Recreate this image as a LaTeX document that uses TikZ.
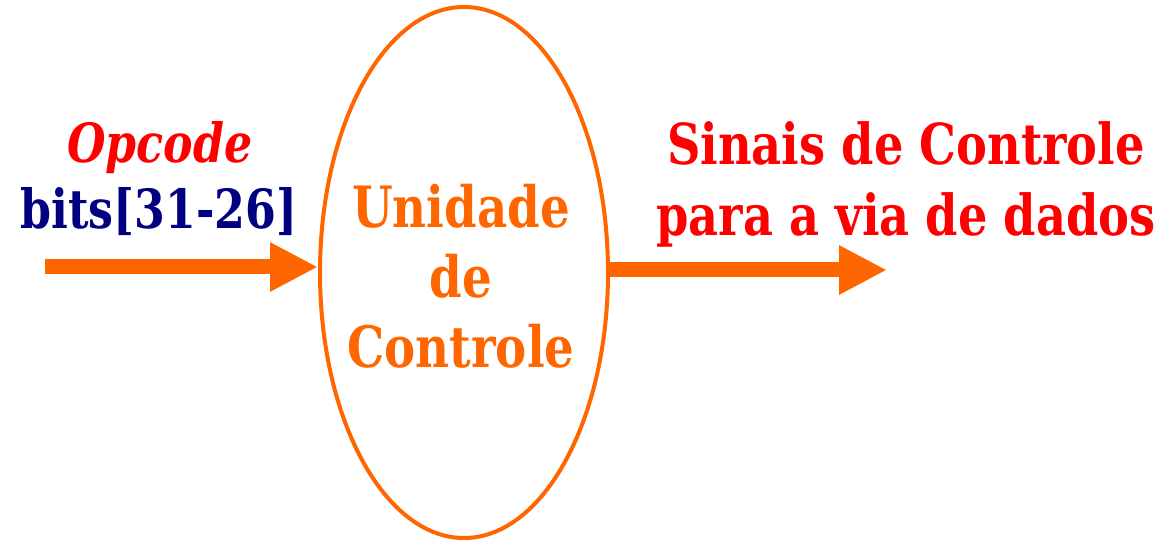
\documentclass[tikz,border=0pt]{standalone}
\usepackage{fontspec}
\setmainfont{DejaVu Serif}[FakeStretch=0.82]
\usetikzlibrary{shapes.geometric, arrows.meta}
\definecolor{ucorange}{HTML}{FF6600}
\definecolor{ucnavy}{HTML}{000080}
\tikzset{
    flow/.style={ucorange, line width=15pt, -{Triangle[length=48pt, width=46pt]}},
    unit/.style={ellipse, draw=ucorange, line width=4pt, minimum width=288pt, minimum height=531pt, inner sep=0pt},
    big text/.style={font=\bfseries\fontsize{57}{70}\selectfont, align=center, inner sep=0pt},
    field text/.style={font=\bfseries\fontsize{54}{67}\selectfont, align=center, inner sep=0pt},
    signal text/.style={font=\bfseries\fontsize{56.5}{71}\selectfont, align=center, inner sep=0pt}
}

\begin{document}
\begin{tikzpicture}[x=1pt, y=-1pt]
    \useasboundingbox (0,0) rectangle (1173,545);

    % Control unit
    \node[unit] (cu) at (464,272.5) {};
    \node[big text, text=ucorange, anchor=base] (cutext) at (461,367) {Unidade\\de\\Controle};

    % Input: opcode field
    \node[field text, text=red, font=\bfseries\itshape\fontsize{54}{67}\selectfont, anchor=base] (opcode) at (160,163) {Opcode};
    \node[field text, text=ucnavy, anchor=base] (bits) at (159,229) {bits[31-26]};
    \coordinate (src) at (45,267);
    \draw[flow] (src) -- (src -| cu.west);

    % Output: control signals
    \node[signal text, text=red, anchor=base] (signals) at (906,236) {Sinais de Controle\\para a via de dados};
    \coordinate (dst) at (887,270);
    \draw[flow] (cu.east |- dst) -- (dst);
\end{tikzpicture}
\end{document}
